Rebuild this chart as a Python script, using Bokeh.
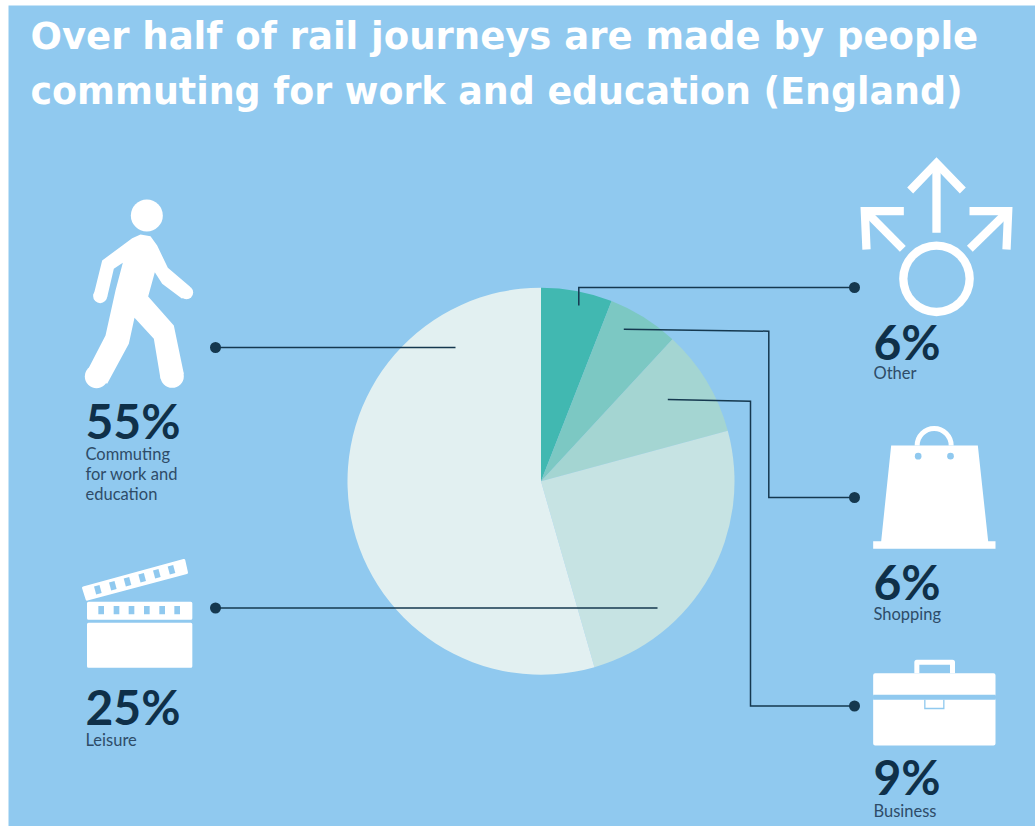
import math
from bokeh.plotting import figure
from bokeh.models import Range1d
from bokeh.core.properties import value
from bokeh.embed import file_html
from bokeh.resources import INLINE

title_lines = ["Over half of rail journeys are made by people",
               "commuting for work and education (England)"]
categories = ["Other", "Shopping", "Business", "Leisure", "Commuting for work and education"]
shares = [6, 6, 9, 25, 55]
slice_colors = ["#41B8B1", "#7CC8C3", "#A4D5D2", "#C6E3E3", "#E2F0F1"]
label_lines = [["Other"], ["Shopping"], ["Business"], ["Leisure"],
               ["Commuting", "for work and", "education"]]

BG = "#90C9EF"
INK = "#0F3049"
SUB = "#2E4C68"
LINE = "#15384F"
WHITE = "#FFFFFF"

p = figure(width=1035, height=826, output_backend="svg", toolbar_location=None,
           x_range=Range1d(0, 1035), y_range=Range1d(-826, 0),
           x_axis_type=None, y_axis_type=None, min_border=0,
           background_fill_color=WHITE, border_fill_color=WHITE, outline_line_color=None)
p.grid.visible = False

# panel
p.quad(left=[8], right=[1035], top=[-5], bottom=[-826], fill_color=BG, line_color=None)

# ---- pie
total = sum(shares)
cum = 0
for s, c in zip(shares, slice_colors):
    a0 = math.pi / 2 - cum / total * 2 * math.pi
    cum += s
    a1 = math.pi / 2 - cum / total * 2 * math.pi
    p.wedge(x=[540.5], y=[-480.7], radius=193.5, start_angle=[a0], end_angle=[a1],
            direction="clock", fill_color=c, line_color=None)

# ---- leaders
leaders = [
    ([215, 455], [347, 347]),
    ([215, 657], [607.5, 607.5]),
    ([854, 578.3, 578.3], [287, 287, 305]),
    ([854, 768.3, 768.3, 623.3], [497, 497, 330.7, 328.7]),
    ([854, 750, 750, 667.3], [705.5, 705.5, 400.7, 399]),
]
for xs, ys in leaders:
    p.line(xs, [-y for y in ys], line_color=LINE, line_width=1.5, line_join="miter")
    p.circle(x=[xs[0]], y=[-ys[0]], radius=5.5, fill_color=LINE, line_color=None)

# ---- icon helpers (z = 3x zoom coordinates relative to an origin)
def mk(ox, oy):
    return (lambda pts: ([ox + a / 3 for a, b in pts], [-(oy + b / 3) for a, b in pts]))

def poly(m, pts, color=WHITE, round_px=0):
    xs, ys = m(pts)
    p.patch(xs, ys, fill_color=color, line_color=color if round_px else None,
            line_width=round_px or 1, line_join="round")

def stroke(m, pts, w, color=WHITE, cap="butt", join="miter"):
    xs, ys = m(pts)
    p.line(xs, ys, line_color=color, line_width=w, line_cap=cap, line_join=join)

def disc(m, x, y, r, color=WHITE):
    xs, ys = m([(x, y)])
    p.circle(x=xs, y=ys, radius=r / 3, fill_color=color, line_color=None)

def rot_rect(m, cx, cy, w, h, deg, color):
    t = math.radians(deg)
    c, s = math.cos(t), math.sin(t)
    pts = [(cx + dx * c - dy * s, cy + dx * s + dy * c)
           for dx, dy in [(-w / 2, -h / 2), (w / 2, -h / 2), (w / 2, h / 2), (-w / 2, h / 2)]]
    poly(m, pts, color)

# walker
m = mk(60, 190)
disc(m, 259, 75, 48)
poly(m, [(125, 210), (215, 143), (240, 132), (270, 137), (290, 165), (322, 232), (388, 288),
         (365, 325), (305, 280), (283, 245), (263, 318), (340, 405),
         (370, 550), (300, 565), (280, 445), (222, 382), (205, 460), (140, 580), (78, 545),
         (135, 435), (165, 300), (187, 217), (160, 235), (140, 320), (99, 315)])
disc(m, 378, 306, 20)
disc(m, 119, 317, 21)
disc(m, 335, 557, 35)
disc(m, 108, 558, 35)

# clapper
m = mk(60, 550)
poly(m, [(69, 112), (370, 30), (378, 66), (80, 146)], round_px=3)
for cx, cy in [(112, 118), (157, 106), (201, 94), (245, 82), (289, 70), (333, 58)]:
    rot_rect(m, cx, cy, 17, 25, -15, BG)
poly(m, [(84, 158), (391, 158), (391, 203), (84, 203)], round_px=3)
poly(m, [(84, 221), (391, 221), (391, 347), (84, 347)], round_px=3)
for cx in [122, 168, 213, 259, 305, 350]:
    rot_rect(m, cx, 179, 17, 25, 0, BG)

# arrows
m = mk(840, 150)
stroke(m, [(288, 247), (288, 40)], 8.3)
stroke(m, [(209, 120), (288, 38), (367, 120)], 8.3)
stroke(m, [(187, 295), (78, 185)], 8.3)
stroke(m, [(190, 182), (73, 182), (78, 297)], 8.3)
stroke(m, [(388, 295), (500, 185)], 8.3)
stroke(m, [(387, 182), (503, 182), (498, 297)], 8.3)
disc(m, 288, 385, 112)
disc(m, 288, 385, 87, BG)

# bag
m = mk(840, 420)
hx, hy = m([(281, 75)])
p.arc(x=hx, y=hy, radius=17, start_angle=0, end_angle=math.pi, line_color=WHITE, line_width=5)
poly(m, [(152, 75), (412, 75), (443, 362), (465, 362), (465, 385), (98, 385), (98, 362), (122, 362)])
disc(m, 233, 107, 10, BG)
disc(m, 330, 107, 10, BG)

# briefcase
m = mk(840, 640)
stroke(m, [(229, 98), (229, 65), (336, 65), (336, 98)], 5, join="round")
poly(m, [(104, 104), (459, 104), (459, 163), (104, 163)], round_px=4)
poly(m, [(104, 178), (459, 178), (459, 309), (104, 309)], round_px=4)
poly(m, [(98, 163), (465, 163), (465, 178), (98, 178)], BG)
stroke(m, [(253, 178), (253, 204), (310, 204), (310, 178)], 1.3, color=BG)

# ---- text (baseline given in reference pixels)
def put(x, base, t, size, color, font, style="normal"):
    p.text(x=[x], y=[-(base - 0.41 * size)], text=[t], text_font=value(font), text_font_style=style,
           text_font_size=f"{size}px", text_color=color, text_baseline="alphabetic", text_align="left")

for line, y, size in zip(title_lines, [51, 105.5], [37, 36.4]):
    put(30, y, line, size, WHITE, "DejaVu Sans", "bold")

big_pos = [(873, 361), (873, 601), (873, 796), (85, 726), (85, 440)]
sub_pos = [(873, [379]), (873, [620]), (873, [817.5]), (85, [746.5]), (85, [460.5, 480.5, 500.5])]
for s, (bx, by), lines, (lx, lys) in zip(shares, big_pos, label_lines, sub_pos):
    put(bx, by, f"{s}%", 48, INK, "Lato", "bold")
    for t, ly in zip(lines, lys):
        put(lx, ly, t, 16.5, SUB, "Lato")

open("out.html", "w").write(file_html(p, INLINE))
